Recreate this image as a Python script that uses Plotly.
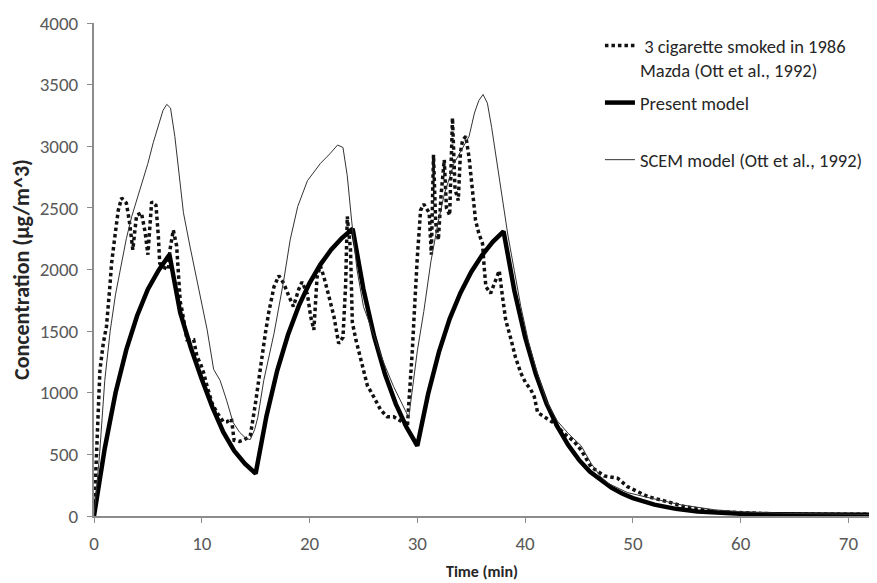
import plotly.graph_objects as go

# ---------------- data ----------------
present_t = [0, 1, 2, 3, 4, 5, 6, 7,
             8, 9, 10, 11, 12, 13, 14, 15,
             16, 17, 18, 19, 20, 21, 22, 23, 24,
             25, 26, 27, 28, 29, 30,
             31, 32, 33, 34, 35, 36, 37, 38,
             39, 40, 41, 42, 43, 44, 45, 46, 47, 48, 49, 50,
             52, 54, 56, 58, 60, 63, 66, 69, 72]
present_c = [0, 550, 1000, 1350, 1625, 1840, 1995, 2120,
             1650, 1360, 1110, 880, 680, 530, 425, 345,
             810, 1180, 1470, 1705, 1890, 2040, 2160, 2255, 2330,
             1840, 1455, 1150, 910, 720, 570,
             990, 1330, 1600, 1810, 1980, 2115, 2225, 2310,
             1830, 1450, 1150, 910, 725, 575, 455, 360, 290, 230, 182, 145,
             92, 58, 37, 25, 18, 14, 12, 11, 10]

scem_t = [0, 0.5, 1, 1.5, 2, 2.5, 3, 3.5, 4, 4.5, 5, 5.5, 6, 6.4, 6.75, 7.1, 7.5, 7.9,
          8.3, 8.9, 9.4, 9.9, 10.5, 11.1, 11.7, 12.3, 12.9, 13.5, 14.1, 14.5, 14.9,
          15.2, 15.75, 16.7, 17.6, 18.2, 18.9, 19.8, 21.0, 21.9, 22.6, 23.1, 23.5,
          23.9, 24.4, 25.0, 26.0, 26.9, 27.8, 28.7, 29.2, 29.5, 30.0, 30.6, 31.25,
          31.9, 32.5, 33.4, 34.2, 34.8, 35.3, 35.7, 36.1, 36.5, 36.9, 37.4, 37.9,
          38.4, 39.0, 39.6, 40.3, 41.0, 42.0, 43.0, 44.0, 44.6, 45.2, 46.1, 47.0,
          47.7, 48.5, 49.5, 51.4, 54.5, 57.6, 60.0, 63.8, 68.0, 72.0]
scem_c = [0, 480, 1100, 1500, 1800, 2030, 2250, 2430, 2570, 2710, 2860, 3030, 3180, 3290, 3340, 3310, 3080, 2790,
          2460, 2190, 1980, 1750, 1510, 1190, 1100, 940, 760, 680, 630, 620, 700,
          800, 1100, 1480, 1910, 2240, 2510, 2720, 2860, 2940, 3010, 2990, 2760,
          2400, 2000, 1700, 1450, 1240, 1050, 890, 800, 1000, 1340, 1660, 2060,
          2370, 2610, 2860, 2980, 3080, 3270, 3370, 3420, 3350, 3150, 2850, 2550,
          2280, 1990, 1700, 1420, 1200, 930, 770, 670, 620, 570, 430, 320,
          265, 230, 190, 150, 90, 50, 35, 22, 15, 12]

meas_t = [0, 0.3, 0.55, 0.86, 1.16, 1.47, 1.63, 1.94, 2.25, 2.56, 3.0, 3.3, 3.6, 3.95,
          4.4, 4.75, 5.0, 5.35, 5.75, 5.97, 6.1, 6.4, 6.9, 7.05, 7.36, 7.67, 7.85, 8.0,
          8.17, 8.35, 8.63, 9.25, 9.56, 9.87, 10.18, 10.5, 10.96, 11.4, 12.0, 12.35,
          12.75, 13.0, 13.5, 13.9, 14.5, 14.98, 15.3, 15.6, 15.9, 16.2, 16.5, 16.7,
          17.15, 17.6, 18.1, 18.5, 19.0, 19.3, 19.8, 20.1, 20.4, 20.7, 21.0, 21.3,
          21.8, 22.26, 22.7, 23.1, 23.35, 23.5, 23.8, 23.97, 24.3, 24.6, 24.9, 25.36,
          26.0, 26.6, 27.2, 27.8, 28.46, 29.08, 29.2, 29.4, 29.54, 29.7, 29.85, 30.0,
          30.16, 30.3, 30.6, 31.1, 31.3, 31.5, 31.7, 31.95, 32.2, 32.5, 32.7, 33.0,
          33.26, 33.5, 33.8, 34.0, 34.2, 34.5, 34.8, 35.1, 35.4, 35.7, 36.05, 36.2,
          36.36, 36.8, 37.3, 37.6, 37.9, 38.2, 38.7, 39.1, 39.6, 40.07, 40.5, 40.85,
          41.16, 42.7, 43.6, 44.56, 45.2, 46.1, 47.35, 48.6, 49.5, 51.4, 53.2, 54.8,
          57.6, 60.7, 63.8, 68.0, 72.0]
meas_c = [0, 600, 1185, 1400, 1540, 1860, 2050, 2270, 2480, 2580, 2540, 2380, 2160, 2440,
          2460, 2300, 2120, 2550, 2520, 2270, 2050, 2020, 2000, 2160, 2320, 2190, 1950, 1740,
          1670, 1590, 1430, 1430, 1290, 1240, 1160, 1050, 914, 840, 765, 765,
          790, 615, 605, 617, 650, 914, 1130, 1293, 1482, 1645, 1780, 1860,
          1950, 1888, 1780, 1700, 1840, 1900, 1800, 1620, 1510, 1940, 2030, 1950,
          1780, 1620, 1400, 1450, 1880, 2430, 2160, 1570, 1430, 1320, 1200, 1060,
          960, 860, 806, 806, 770, 725, 900, 1120, 1350, 1620, 1950, 2100,
          2300, 2480, 2530, 2460, 2120, 2930, 2380, 2240, 2600, 2890, 2500, 2440,
          3230, 2650, 2560, 2950, 3050, 3080, 2910, 2645, 2400, 2295, 2210, 2020,
          1860, 1807, 1915, 1990, 1780, 1590, 1430, 1290, 1160, 1077, 1030, 968,
          840, 752, 671, 603, 535, 400, 325, 306, 238, 157, 116, 75,
          35, 22, 15, 15, 15]

x_ticks = [0, 10, 20, 30, 40, 50, 60, 70]
y_ticks = [0, 500, 1000, 1500, 2000, 2500, 3000, 3500, 4000]

names = [" 3 cigarette smoked in 1986<br>Mazda (Ott et al., 1992)",
         "Present model<br> ",
         "SCEM model (Ott et al., 1992)"]

FONT = "Carlito, Lato, sans-serif"

fig = go.Figure()
fig.add_trace(go.Scatter(x=meas_t, y=meas_c, mode="lines", name=names[0],
                         line=dict(color="#111111", width=3.5, dash="3.5px,3px"),
                         legendgroup="a"))
fig.add_trace(go.Scatter(x=present_t, y=present_c, mode="lines", name=names[1],
                         line=dict(color="#000000", width=4.5),
                         legendgroup="b"))
fig.add_trace(go.Scatter(x=scem_t, y=scem_c, mode="lines", name=names[2],
                         line=dict(color="#333333", width=1),
                         legendgroup="c"))

# the page body has an 8px default margin: the figure is sized to fit the window
fig.update_layout(
    width=869, height=575,
    margin=dict(l=86, r=7, t=15, b=67, autoexpand=False),
    paper_bgcolor="white", plot_bgcolor="white",
    font=dict(family=FONT, size=18, color="#404040"),
    legend=dict(x=0.652, y=0.992, xanchor="left", yanchor="top",
                bgcolor="rgba(0,0,0,0)", tracegroupgap=6, valign="top",
                font=dict(size=18.5, color="#262626")),
    xaxis=dict(range=[0, 72], tickvals=x_ticks, showgrid=False, zeroline=False,
               showline=True, linecolor="#8c8c8c", linewidth=2, automargin=False,
               ticks="outside", ticklen=5, tickcolor="#8c8c8c", tickwidth=1,
               ticklabelstandoff=4,
               tickfont=dict(size=19, color="#595959"),
               title=dict(text="<b>Time (min)</b>", font=dict(size=16, color="#262626"), standoff=12)),
    yaxis=dict(range=[0, 4000], tickvals=y_ticks, showgrid=False, zeroline=False,
               showline=True, linecolor="#8c8c8c", linewidth=2, automargin=False,
               ticks="outside", ticklen=5, tickcolor="#8c8c8c", tickwidth=1,
               ticklabelstandoff=5,
               tickfont=dict(size=19, color="#595959"),
               title=dict(text="<b>Concentration (µg/m^3)</b>", font=dict(size=22, color="#262626"), standoff=4)),
)

fig.write_html("out.html")
